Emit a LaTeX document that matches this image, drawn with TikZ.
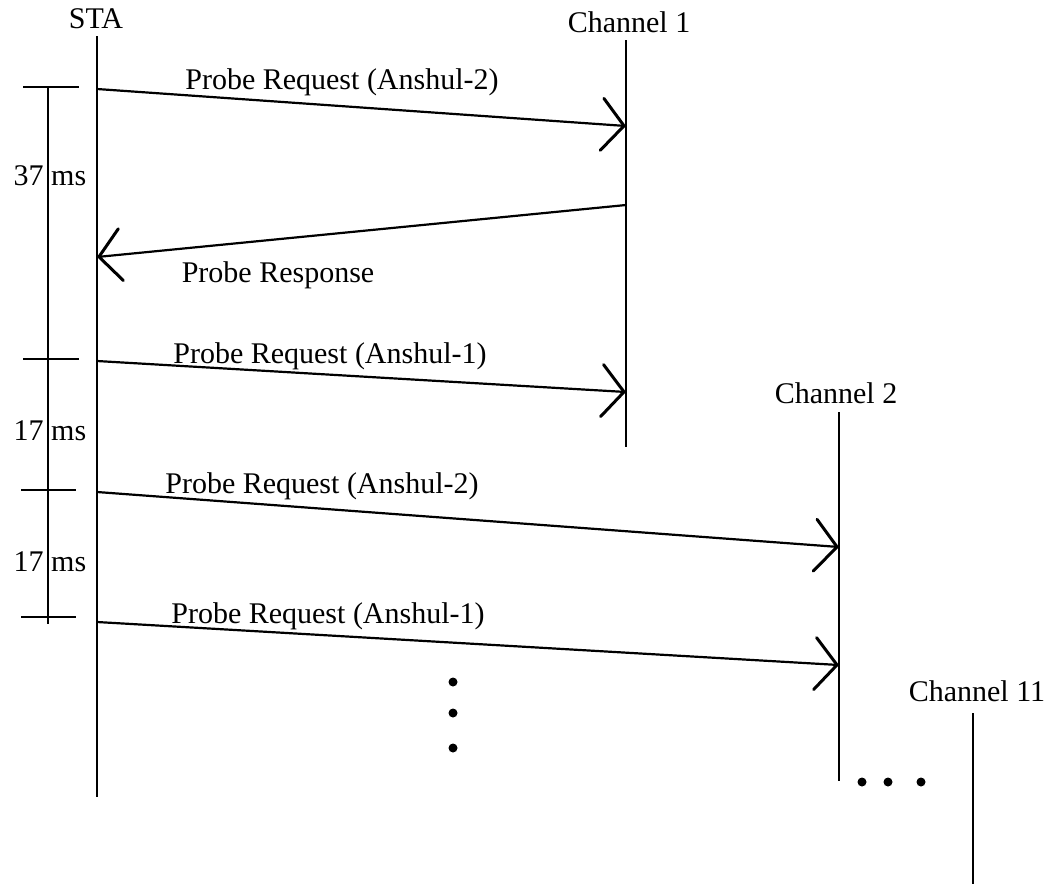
\documentclass[tikz,border=0pt]{standalone}
\usepackage{fontspec}
\setmainfont{Liberation Serif}
\usetikzlibrary{arrows.meta}
\begin{document}
\begin{tikzpicture}[x=1pt,y=-1pt,
  lbl/.style={font=\fontsize{30}{36}\selectfont, inner sep=0pt, anchor=base},
  life/.style={line width=2.2pt},
  msg/.style={line width=2.2pt, -{Straight Barb[length=22pt,width=52pt,line width=3pt,line cap=round]}},
  dotmark/.style={circle, fill=black, inner sep=0pt, minimum size=9pt}]
\useasboundingbox (0,0) rectangle (1052,884);
% lifeline labels
\node[lbl] (sta) at (96,28) {STA};
\node[lbl] (ch1) at (629,32) {Channel 1};
\node[lbl] (ch2) at (836,403) {Channel 2};
\node[lbl] (ch11) at (977,701) {Channel 11};
% lifelines
\coordinate (staT) at (97,36);  \coordinate (staB) at (97,797);
\coordinate (c1T) at (626,40);  \coordinate (c1B) at (626,447);
\coordinate (c2T) at (839,412); \coordinate (c2B) at (839,781);
\coordinate (c11T) at (973,713); \coordinate (c11B) at (973,884);
\draw[life] (staT) -- (staB);
\draw[life] (c1T) -- (c1B);
\draw[life] (c2T) -- (c2B);
\draw[life] (c11T) -- (c11B);
% message end points
\coordinate (m1s) at (97,89);   \coordinate (m1e) at (626,126);
\coordinate (m2s) at (626,205); \coordinate (m2e) at (97,257);
\coordinate (m3s) at (97,361);  \coordinate (m3e) at (626,392);
\coordinate (m4s) at (97,492);  \coordinate (m4e) at (839,547);
\coordinate (m5s) at (97,622);  \coordinate (m5e) at (839,665);
\draw[msg] (m1s) -- (m1e);
\draw[msg] (m2s) -- (m2e);
\draw[msg] (m3s) -- (m3e);
\draw[msg] (m4s) -- (m4e);
\draw[msg] (m5s) -- (m5e);
% message labels
\node[lbl] (l1) at (342,89) {Probe Request (Anshul-2)};
\node[lbl] (l2) at (278,282) {Probe Response};
\node[lbl] (l3) at (330,363) {Probe Request (Anshul-1)};
\node[lbl] (l4) at (322,493) {Probe Request (Anshul-2)};
\node[lbl] (l5) at (328,623) {Probe Request (Anshul-1)};
% time bar
\coordinate (tT) at (48,87); \coordinate (tB) at (48,624);
\draw[life] (tT) -- (tB);
\coordinate (k1a) at (23,87);  \coordinate (k1b) at (79,87);
\coordinate (k2a) at (23,359); \coordinate (k2b) at (79,359);
\coordinate (k3a) at (21,490); \coordinate (k3b) at (76,490);
\coordinate (k4a) at (21,617); \coordinate (k4b) at (76,617);
\draw[life] (k1a) -- (k1b);
\draw[life] (k2a) -- (k2b);
\draw[life] (k3a) -- (k3b);
\draw[life] (k4a) -- (k4b);
\node[lbl] (t1) at (50,185) {37 ms};
\node[lbl] (t2) at (50,440) {17 ms};
\node[lbl] (t3) at (50,571) {17 ms};
% ellipsis dots
\node[dotmark] (v1) at (453,682) {};
\node[dotmark] (v2) at (453,713) {};
\node[dotmark] (v3) at (453,748) {};
\node[dotmark] (h1) at (862,782) {};
\node[dotmark] (h2) at (888,782) {};
\node[dotmark] (h3) at (921,782) {};
\end{tikzpicture}
\end{document}
